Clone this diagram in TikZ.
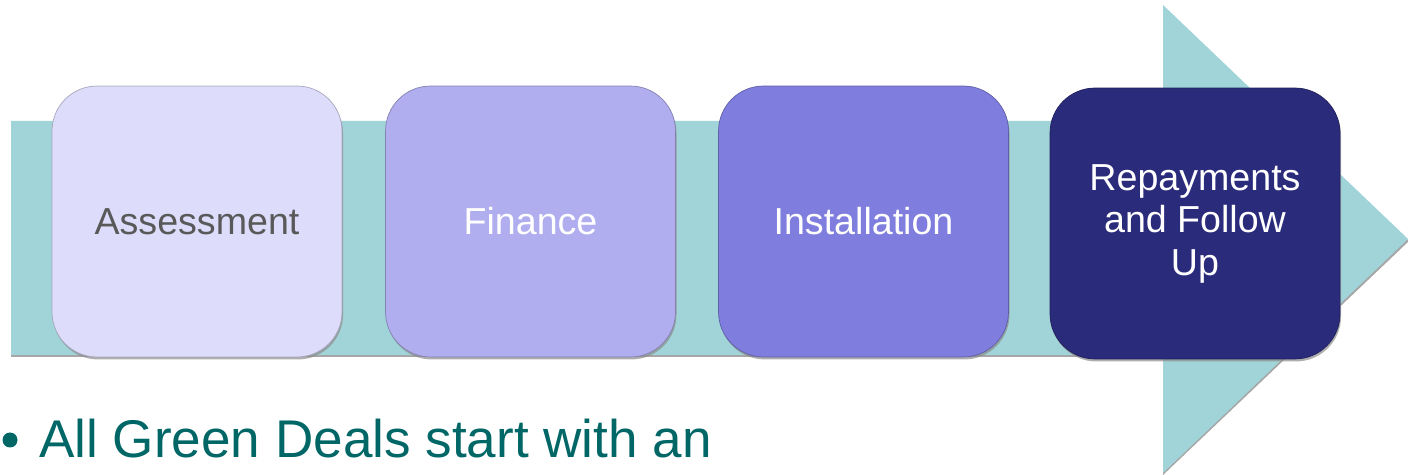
\documentclass[tikz,border=0pt]{standalone}
\usepackage{fontspec}
\setmainfont{Liberation Sans}
\usetikzlibrary{positioning, shadows}
\definecolor{arrowteal}{HTML}{A0D4D8}
\definecolor{stepone}{HTML}{DDDDFB}
\definecolor{steptwo}{HTML}{B0AEEE}
\definecolor{stepthree}{HTML}{7F7EDE}
\definecolor{stepfour}{HTML}{2B2B7C}
\definecolor{dealgreen}{HTML}{006666}

\begin{document}
\begin{tikzpicture}[x=0.02cm, y=-0.02cm,
    stepbox/.style={draw=#1!75!black, line width=0.4pt, fill=#1, rounded corners=0.9cm,
        minimum width=5.8cm, minimum height=5.42cm, align=center, text=white,
        font=\fontsize{21.4}{24.2}\selectfont,
        drop shadow={shadow xshift=0.6pt, shadow yshift=-1.4pt, fill=black!45, opacity=0.7}}]
    \useasboundingbox (0,0) rectangle (1408,475);

    % Process arrow
    \fill[black!35] (11,123) -- (1163,123) -- (1163,7) -- (1409,241) -- (1163,475) -- (1163,357) -- (11,357) -- cycle;
    \fill[arrowteal] (11,121) -- (1163,121) -- (1163,5) -- (1408,239) -- (1163,473) -- (1163,355) -- (11,355) -- cycle;

    % Steps
    \node[stepbox=stepone, text={black!65}] (assess) at (197,221.5) {Assessment};
    \node[stepbox=steptwo] (finance) at (530.5,221.5) {Finance};
    \node[stepbox=stepthree] (install) at (863.5,221.5) {Installation};
    \node[stepbox=stepfour] (repay) at (1195,223.5) {Repayments\\and Follow\\Up};

    % Bullet text
    \node[text=dealgreen, font=\fontsize{30.2}{36}\selectfont, anchor=base west, inner sep=0pt] (deals) at (39,458) {All Green Deals start with an};
    \fill[dealgreen] (10,440) circle (7.5);
\end{tikzpicture}
\end{document}
